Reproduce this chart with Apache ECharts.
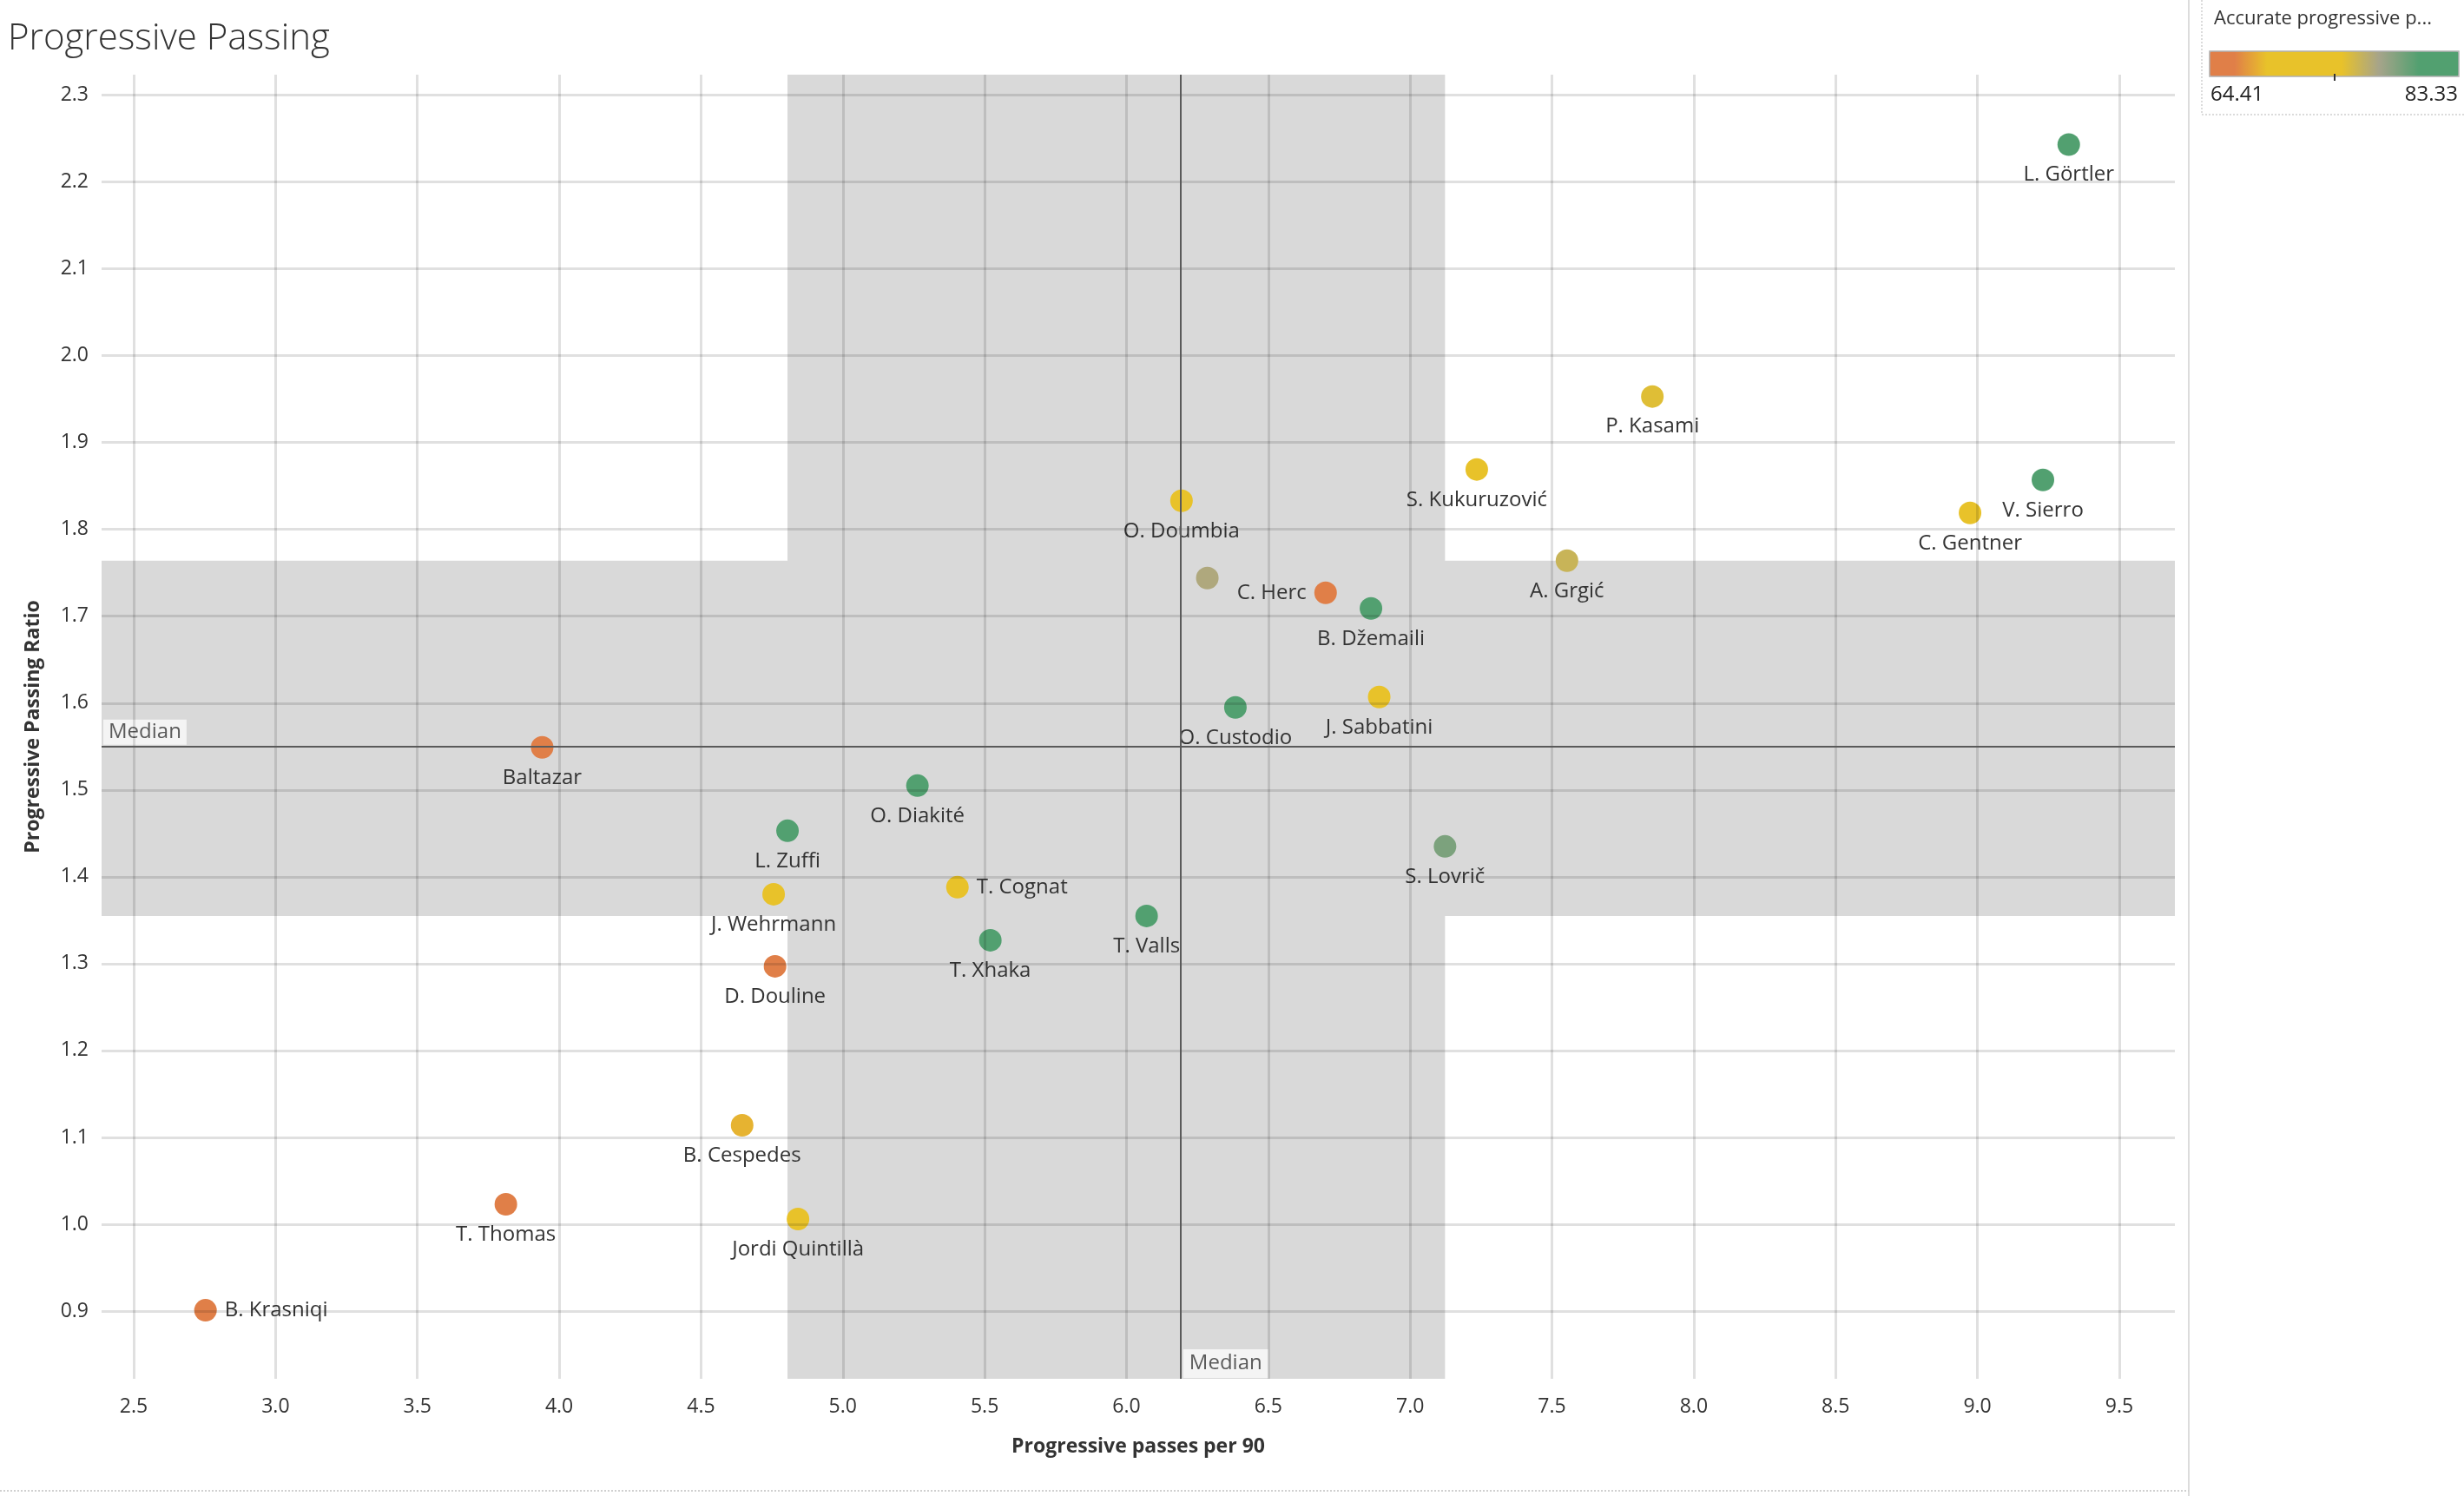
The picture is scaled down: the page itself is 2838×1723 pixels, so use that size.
<!DOCTYPE html>
<html>
<head>
<meta charset="utf-8">
<script src="https://cdn.jsdelivr.net/npm/echarts@6/dist/echarts.min.js"></script>
<style>
html,body{margin:0;padding:0;background:#fff;}
#chart{width:2838px;height:1723px;}
</style>
</head>
<body>
<div id="chart"></div>
<script>
// ---------- DATA ----------
const players = ['L. Görtler','P. Kasami','S. Kukuruzović','V. Sierro','C. Gentner','O. Doumbia','',
  'C. Herc','B. Džemaili','A. Grgić','J. Sabbatini','O. Custodio','Baltazar','O. Diakité','L. Zuffi',
  'T. Cognat','J. Wehrmann','T. Valls','T. Xhaka','S. Lovrič','D. Douline','B. Cespedes','T. Thomas',
  'Jordi Quintillà','B. Krasniqi'];
const progressivePassesPer90 = [9.322,7.854,7.235,9.231,8.974,6.194,6.285,
  6.702,6.862,7.553,6.891,6.384,3.940,5.263,4.805,
  5.404,4.756,6.071,5.520,7.123,4.761,4.645,3.812,
  4.842,2.753];
const progressivePassingRatio = [2.243,1.953,1.869,1.857,1.819,1.833,1.744,
  1.727,1.709,1.764,1.607,1.595,1.549,1.505,1.453,
  1.388,1.380,1.355,1.327,1.435,1.297,1.114,1.023,
  1.006,0.901];
const accurateProgressivePct = [80.5,74.8,72.0,83.33,71.0,70.5,76.9,
  66.0,80.9,75.8,72.5,80.6,65.5,82.0,82.7,
  71.5,70.0,82.2,80.8,78.8,66.2,68.2,65.0,
  70.8,64.41];
const xTickLabels = ['2.5','3.0','3.5','4.0','4.5','5.0','5.5','6.0','6.5','7.0','7.5','8.0','8.5','9.0','9.5'];
const yTickLabels = ['0.9','1.0','1.1','1.2','1.3','1.4','1.5','1.6','1.7','1.8','1.9','2.0','2.1','2.2','2.3'];
const colorRange = ['64.41','83.33'];

// ---------- CONFIG ----------
const FONT = '"Open Sans", Lato, "Noto Sans", sans-serif';
const xMin = 2.3867, xMax = 9.6962, yMin = 0.8221, yMax = 2.3235;
const xTicks = xTickLabels.map(Number);
const yTicks = yTickLabels.map(Number);

function percentile(arr, p) {
  const s = arr.slice().sort((a, b) => a - b);
  const h = (s.length - 1) * p;
  const lo = Math.floor(h), hi = Math.ceil(h);
  return s[lo] + (s[hi] - s[lo]) * (h - lo);
}
const medX = percentile(progressivePassesPer90, 0.5);
const medY = percentile(progressivePassingRatio, 0.5);
const q1X = percentile(progressivePassesPer90, 0.25), q3X = percentile(progressivePassesPer90, 0.75);
const q1Y = percentile(progressivePassingRatio, 0.25), q3Y = percentile(progressivePassingRatio, 0.75);

// palette stops (orange -> gold -> grey -> green)
const stops = [[0,'#E07F48'],[0.10,'#E07F48'],[0.23,'#E8C22A'],[0.53,'#E8C22A'],[0.68,'#A6A48A'],[0.84,'#52A070'],[1,'#52A070']];
function hex(c){return [parseInt(c.slice(1,3),16),parseInt(c.slice(3,5),16),parseInt(c.slice(5,7),16)];}
const palette = [];
for (let i = 0; i <= 100; i++) {
  const t = i / 100;
  let k = 0;
  while (k < stops.length - 2 && t > stops[k+1][0]) k++;
  const [t0, c0] = stops[k], [t1, c1] = stops[k+1];
  const f = t1 === t0 ? 0 : (t - t0) / (t1 - t0);
  const a = hex(c0), b = hex(c1);
  palette.push('rgb(' + a.map((v, j) => Math.round(v + (b[j] - v) * f)).join(',') + ')');
}

const labelSide = {'C. Herc':'left','T. Cognat':'right','B. Krasniqi':'right'};

const pointData = players.map((n, i) => {
  const side = labelSide[n] || 'bottom';
  return {
    name: n,
    value: [progressivePassesPer90[i], progressivePassingRatio[i], accurateProgressivePct[i]],
    label: { show: n !== '', position: side, distance: side === 'bottom' ? 10 : 9 }
  };
});

const gridLineData = xTicks.map(v => ({ xAxis: v })).concat(yTicks.map(v => ({ yAxis: v })));

const chart = echarts.init(document.getElementById('chart'), null, {renderer: 'canvas'});
const option = {
  backgroundColor: '#ffffff',
  animation: false,
  title: {
    text: 'Progressive Passing',
    left: 9, top: 20, padding: 0,
    textStyle: { fontFamily: FONT, fontSize: 42, fontWeight: 300, color: '#333', lineHeight: 50 }
  },
  grid: { left: 117, right: 333, top: 86, bottom: 135, containLabel: false },
  xAxis: {
    type: 'value', min: xMin, max: xMax,
    axisLine: { show: false }, axisTick: { show: false },
    axisLabel: { customValues: xTicks, formatter: v => Number(v).toFixed(1),
      margin: 21, fontSize: 23, color: '#333', fontFamily: FONT },
    splitLine: { show: false },
    name: 'Progressive passes per 90', nameLocation: 'middle', nameGap: 67,
    nameTextStyle: { fontFamily: FONT, fontSize: 23, fontWeight: 'bold', color: '#333' }
  },
  yAxis: {
    type: 'value', min: yMin, max: yMax,
    axisLine: { show: false }, axisTick: { show: false },
    axisLabel: { customValues: yTicks, formatter: v => Number(v).toFixed(1),
      margin: 15, fontSize: 23, color: '#333', fontFamily: FONT },
    splitLine: { show: false },
    name: 'Progressive Passing Ratio', nameLocation: 'middle', nameGap: 67,
    nameTextStyle: { fontFamily: FONT, fontSize: 23, fontWeight: 'bold', color: '#333' }
  },
  visualMap: {
    type: 'continuous', show: true, seriesIndex: 4, dimension: 2,
    min: Number(colorRange[0]), max: Number(colorRange[1]),
    orient: 'horizontal', left: 2545, top: 59, padding: 0,
    itemWidth: 29, itemHeight: 287, calculable: false, realtime: false,
    text: null, showLabel: false, hoverLink: false,
    inRange: { color: palette }
  },
  graphic: [
    { type: 'line', z: 10, shape: { x1: 2521, y1: 0, x2: 2521, y2: 1723 }, style: { stroke: '#dcdcdc', lineWidth: 2 } },
    { type: 'line', z: 10, shape: { x1: 0, y1: 1717, x2: 2521, y2: 1717 }, style: { stroke: '#d0d0d0', lineWidth: 2, lineDash: [2, 2] } },
    { type: 'rect', z: 10, shape: { x: 2536, y: -2, width: 310, height: 134 }, style: { fill: 'none', stroke: '#cfcfcf', lineWidth: 1.5, lineDash: [2, 2] } },
    { type: 'text', z: 11, style: { x: 2550, y: 22, text: 'Accurate progressive p...', font: '22px ' + FONT, fill: '#333', textVerticalAlign: 'middle' } },
    { type: 'rect', z: 11, shape: { x: 2545, y: 59, width: 287, height: 29 }, style: { fill: 'none', stroke: '#b0b0b0', lineWidth: 1.5 } },
    { type: 'line', z: 11, shape: { x1: 2689, y1: 85, x2: 2689, y2: 93 }, style: { stroke: '#333', lineWidth: 2 } },
    { type: 'text', z: 11, style: { x: 2546, y: 109, text: colorRange[0], font: '24px ' + FONT, fill: '#222', textVerticalAlign: 'middle' } },
    { type: 'text', z: 11, style: { x: 2831, y: 109, text: colorRange[1], font: '24px ' + FONT, fill: '#222', textAlign: 'right', textVerticalAlign: 'middle' } }
  ],
  series: [
    { // interquartile bands
      type: 'scatter', data: [], z: 0, silent: true,
      markArea: { silent: true, itemStyle: { color: '#d9d9d9' },
        data: [ [ { xAxis: q1X }, { xAxis: q3X } ], [ { yAxis: q1Y }, { yAxis: q3Y } ] ] }
    },
    { // grid lines at tick values
      type: 'scatter', data: [], z: 1, silent: true,
      markLine: { silent: true, symbol: 'none', label: { show: false },
        lineStyle: { color: 'rgba(0,0,0,0.12)', width: 3, type: 'solid' },
        emphasis: { disabled: true },
        data: gridLineData }
    },
    { // median lines
      type: 'scatter', data: [], z: 2, silent: true,
      markLine: { silent: true, symbol: 'none', label: { show: false },
        lineStyle: { color: '#5a5a5a', width: 2, type: 'solid' },
        data: [ { xAxis: medX }, { yAxis: medY } ] }
    },
    { // median labels
      type: 'scatter', z: 4, silent: true, symbolSize: 0,
      data: [ { value: [xMin, medY], label: { position: [2, -32], padding: [3, 6] } },
              { value: [medX, yMin], label: { position: [2, -34], padding: [5, 7] } } ],
      label: { show: true, formatter: 'Median', fontFamily: FONT, fontSize: 24, lineHeight: 23,
        color: '#333', backgroundColor: 'rgba(255,255,255,0.88)' }
    },
    { // players
      type: 'scatter', z: 3, symbolSize: 26, data: pointData,
      itemStyle: { opacity: 1 },
      label: { show: true, formatter: p => p.name, fontFamily: FONT, fontSize: 24, lineHeight: 24, color: '#333' },
      emphasis: { disabled: true }
    }
  ]
};
chart.setOption(option);
</script>
</body>
</html>
